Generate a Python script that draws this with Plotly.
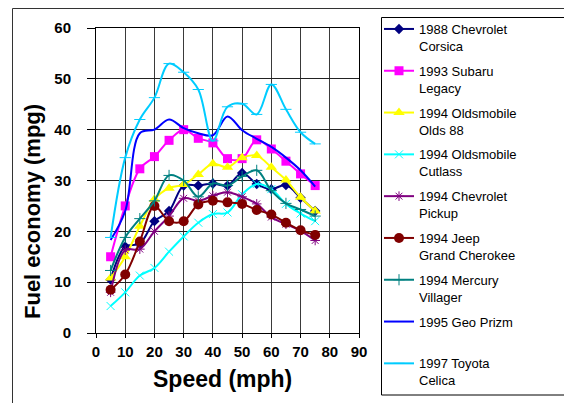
import plotly.graph_objects as go

speed = [5, 10, 15, 20, 25, 30, 35, 40, 45, 50, 55, 60, 65, 70, 75]

corsica  = [10.5, 17.0, 17.6, 22.0, 24.0, 29.0, 29.0, 29.4, 29.0, 31.5, 29.3, 28.3, 29.1, 26.6, 24.0]
subaru   = [15.0, 25.0, 32.3, 34.7, 37.9, 40.0, 38.3, 37.4, 34.3, 34.3, 38.0, 36.2, 33.8, 31.3, 29.0]
olds88   = [10.8, 15.0, 21.0, 26.3, 28.5, 29.2, 31.2, 33.3, 32.6, 34.5, 34.9, 32.6, 30.1, 26.7, 24.0]
cutlass  = [5.3, 8.0, 11.3, 12.8, 16.0, 19.0, 21.7, 23.4, 23.7, 27.3, 29.3, 28.3, 25.4, 23.5, 22.0]
pickup   = [8.0, 16.3, 16.5, 20.0, 23.0, 26.5, 26.0, 27.0, 27.7, 26.8, 25.4, 22.8, 21.4, 20.1, 18.2]
jeep     = [8.5, 11.5, 18.0, 25.0, 22.0, 22.0, 25.3, 26.0, 25.7, 25.4, 24.2, 23.3, 21.7, 20.2, 19.3]
mercury  = [12.3, 18.8, 22.5, 26.0, 31.0, 30.0, 26.8, 29.4, 29.0, 30.8, 32.0, 28.0, 25.5, 24.3, 23.0]
prizm    = [18.3, 24.0, 39.3, 40.0, 42.0, 40.3, 39.3, 38.9, 42.6, 39.9, 38.2, 36.6, 34.5, 32.0, 28.8]
celica   = [18.8, 34.5, 42.0, 46.3, 53.0, 51.3, 47.9, 37.8, 44.5, 45.1, 43.0, 48.9, 44.0, 39.5, 37.2]

names = [
    "1988 Chevrolet<br>Corsica",
    "1993 Subaru<br>Legacy",
    "1994 Oldsmobile<br>Olds 88",
    "1994 Oldsmobile<br>Cutlass",
    "1994 Chevrolet<br>Pickup",
    "1994 Jeep<br>Grand Cherokee",
    "1994 Mercury<br>Villager",
    "1995 Geo Prizm<br> ",
    "1997 Toyota<br>Celica",
]
series = [corsica, subaru, olds88, cutlass, pickup, jeep, mercury, prizm, celica]

x_ticks = [0, 10, 20, 30, 40, 50, 60, 70, 80, 90]
y_ticks = [0, 10, 20, 30, 40, 50, 60]

styles = [
    dict(color="#000080", symbol="diamond", size=8, mlw=0),
    dict(color="#FF00FF", symbol="square", size=9, mlw=0),
    dict(color="#FFFF00", symbol="triangle-up", size=10, mlw=0),
    dict(color="#00FFFF", symbol="x-thin-open", size=8, mlw=1),
    dict(color="#800080", symbol="asterisk-open", size=8, mlw=1),
    dict(color="#800000", symbol="circle", size=10, mlw=0),
    dict(color="#008080", symbol="cross-thin-open", size=8, mlw=1),
    dict(color="#0000FF", symbol=None, size=0, mlw=0),
    dict(color="#00CCFF", symbol="line-ew-open", size=8, mlw=1),
]

# The page body has an 8px default margin: lay everything out in page pixels
# and convert to figure pixels.
OFF = 8
W, H = 572 - OFF, 403 - OFF
L, R, T, B = 96 - OFF, 359 - OFF, 28 - OFF, 333 - OFF
pw, ph = R - L, B - T

def px(x):
    return (x - OFF - L) / pw

def py(y):
    return (B - (y - OFF)) / ph

fig = go.Figure()
for i, (nm, ys, st) in enumerate(zip(names, series, styles)):
    mode = "lines+markers" if st["symbol"] else "lines"
    marker = dict(color=st["color"], symbol=st["symbol"], size=st["size"],
                  line=dict(color=st["color"], width=st["mlw"])) if st["symbol"] else None
    fig.add_trace(go.Scatter(
        x=speed, y=ys, name=nm, mode=mode, legendgroup="g%d" % i,
        line=dict(color=st["color"], width=2, shape="spline", smoothing=1),
        marker=marker,
    ))

font_family = "Liberation Sans, Arial, sans-serif"

fig.update_layout(
    width=W, height=H,
    margin=dict(l=L, r=W - R, t=T, b=H - B, pad=0, autoexpand=False),
    paper_bgcolor="white", plot_bgcolor="white",
    font=dict(family=font_family, color="black"),
    showlegend=True,
    legend=dict(
        x=px(379), y=py(14), xanchor="left", yanchor="top",
        bgcolor="rgba(0,0,0,0)", borderwidth=0, maxheight=420,
        font=dict(size=13, family=font_family, color="black"),
        tracegroupgap=5, valign="top", itemwidth=30,
    ),
    xaxis=dict(
        range=[0, 90], tickvals=x_ticks, ticktext=[str(v) for v in x_ticks],
        showgrid=True, gridcolor="#3a3a3a", gridwidth=1,
        showline=True, linecolor="black", linewidth=1, mirror=True,
        ticks="outside", ticklen=4, tickcolor="black",
        tickfont=dict(size=15, family=font_family, weight="bold"),
        ticklabelstandoff=1, zeroline=False, fixedrange=True,
    ),
    yaxis=dict(
        range=[0, 60], tickvals=y_ticks, ticktext=[str(v) for v in y_ticks],
        showgrid=True, gridcolor="#222222", gridwidth=1,
        showline=True, linecolor="black", linewidth=1, mirror=True,
        ticks="outside", ticklen=8, tickcolor="black",
        tickfont=dict(size=15, family=font_family, weight="bold"),
        ticklabelstandoff=13, zeroline=False, fixedrange=True,
    ),
    annotations=[
        dict(text="Speed (mph)", xref="paper", yref="paper", x=px(222), y=py(379),
             xanchor="center", yanchor="middle", showarrow=False,
             font=dict(size=23, family=font_family, weight="bold", color="black")),
        dict(text="Fuel economy (mpg)", xref="paper", yref="paper", x=px(32), y=py(212),
             xanchor="center", yanchor="middle", showarrow=False, textangle=-90,
             font=dict(size=22, family=font_family, weight="bold", color="black")),
    ],
    shapes=[
        dict(type="rect", xref="paper", yref="paper",
             x0=px(12.5), x1=px(590), y0=py(420), y1=py(8.5),
             line=dict(color="#333333", width=1), fillcolor="rgba(0,0,0,0)", layer="below"),
        dict(type="rect", xref="paper", yref="paper",
             x0=px(381.5), x1=px(568.5), y0=py(395), y1=py(17.5),
             line=dict(color="black", width=1), fillcolor="rgba(0,0,0,0)", layer="above"),
    ],
)

fig.write_html("out.html")
